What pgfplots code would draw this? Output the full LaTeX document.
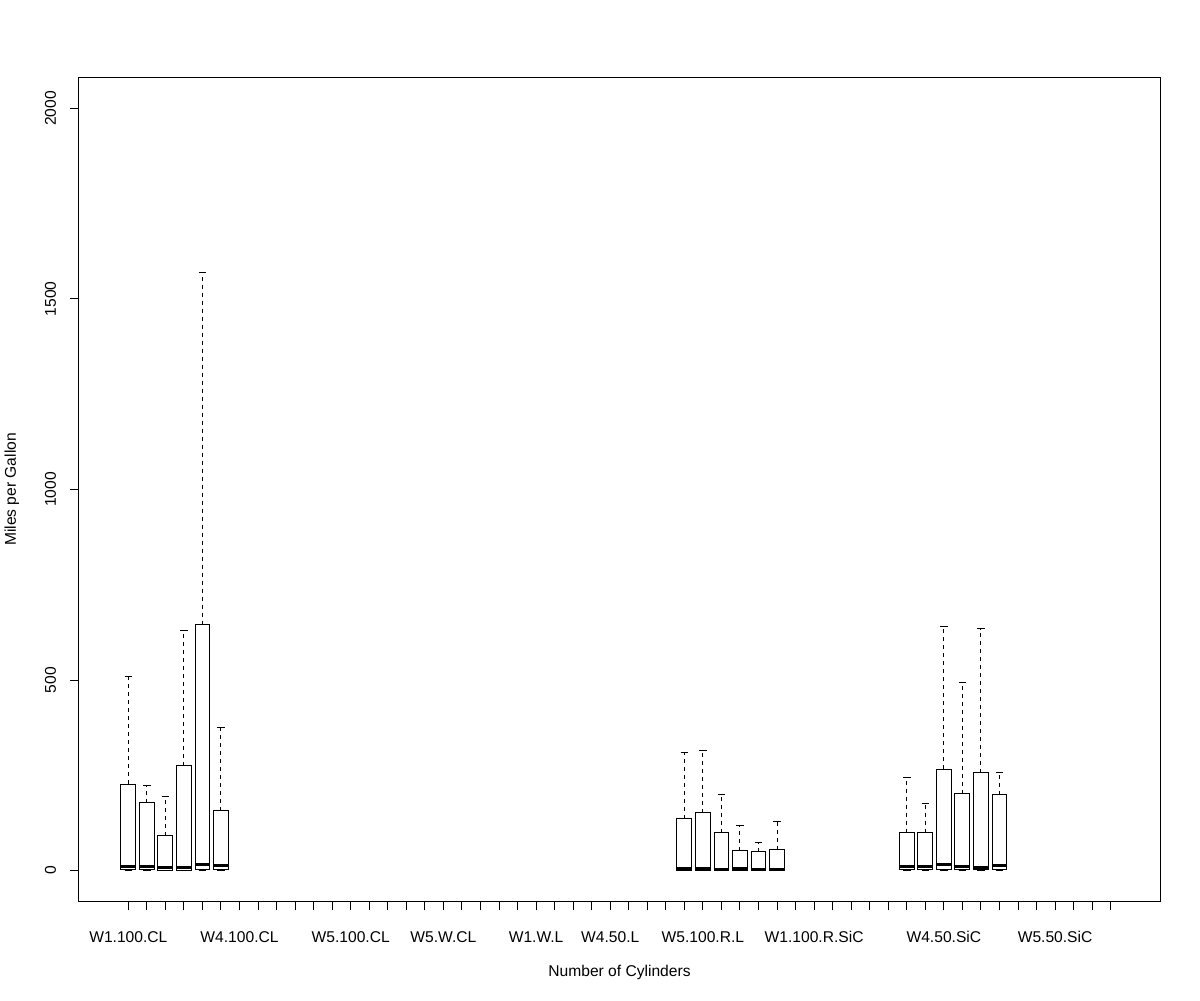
\documentclass[border=0pt]{standalone}
\usepackage{fontspec}
\setmainfont{Liberation Sans}
\usepackage{pgfplots}
\pgfplotsset{compat=1.18}
% draw position, lower whisker, lower quartile, median, upper quartile, upper whisker
\newcommand{\rbox}[6]{%
  \pgfmathsetmacro{\xl}{#1-0.4}%
  \pgfmathsetmacro{\xr}{#1+0.4}%
  \pgfmathsetmacro{\cl}{#1-0.2}%
  \pgfmathsetmacro{\cr}{#1+0.2}%
  \edef\doplots{%
    \noexpand\addplot[black, line width=0.75pt, dash pattern=on 3pt off 3pt, forget plot] coordinates {(#1,#5) (#1,#6)};
    \noexpand\addplot[black, line width=0.75pt, forget plot] coordinates {(\cl,#6) (\cr,#6)};
    \noexpand\addplot[black, line width=0.75pt, forget plot] coordinates {(\cl,#2) (\cr,#2)};
    \noexpand\addplot[black, line width=0.75pt, forget plot] coordinates {(\xl,#3) (\xr,#3) (\xr,#5) (\xl,#5) (\xl,#3) (\xr,#3)};
    \noexpand\addplot[black, line width=2.25pt, forget plot] coordinates {(\xl,#4) (\xr,#4)};
  }\doplots}
\begin{document}
\begin{tikzpicture}
\path[use as bounding box] (0,0) rectangle (900pt,750pt);
\begin{axis}[
  at={(59.25pt,74.25pt)}, anchor=south west,
  scale only axis, width=810.75pt, height=617.25pt,
  xmin=-1.66, xmax=56.66, ymin=-80, ymax=2080,
  font=\fontsize{11.7}{14}\selectfont,
  axis line style={line width=0.75pt, black},
  tick align=outside, major tick length=6.75pt,
  major tick style={line width=0.75pt, black},
  xtick pos=bottom, ytick pos=left,
  xtick={1,...,54},
  xticklabels={W1.100.CL,,,,,,W4.100.CL,,,,,,W5.100.CL,,,,,W5.W.CL,,,,,W1.W.L,,,,W4.50.L,,,,,W5.100.R.L,,,,,,W1.100.R.SiC,,,,,,,W4.50.SiC,,,,,,W5.50.SiC,,,},
  xticklabel style={anchor=base, yshift=-24.5pt},
  ytick={0,500,1000,1500,2000},
  yticklabel style={rotate=90, anchor=base, yshift=10.5pt},
  /pgf/number format/assume math mode=true,
  /pgf/number format/1000 sep={},
  xlabel={Number of Cylinders},
  ylabel={Miles per Gallon},
  xlabel style={at={(axis description cs:0.5,0)}, anchor=base, yshift=-56.25pt},
  ylabel style={at={(axis description cs:0,0.5)}, anchor=base, yshift=47.25pt},
]
\rbox{1}{0}{2}{10}{227}{508}
\rbox{2}{0}{2}{10}{178}{222}
\rbox{3}{0}{1}{7}{91}{193}
\rbox{4}{0}{1}{7}{275}{629}
\rbox{5}{0}{2}{15}{645}{1570}
\rbox{6}{0}{2}{12}{157}{375}
\rbox{31}{0}{1}{6}{136}{309}
\rbox{32}{0}{1}{5}{151}{314}
\rbox{33}{0}{1}{3}{99}{199}
\rbox{34}{0}{1}{5}{52}{117}
\rbox{35}{0}{1}{3}{49}{73}
\rbox{36}{0}{1}{2}{54}{128}
\rbox{43}{0}{2}{10}{99}{243}
\rbox{44}{0}{2}{10}{99}{175}
\rbox{45}{0}{2}{16}{266}{640}
\rbox{46}{0}{2}{10}{201}{493}
\rbox{47}{0}{2}{7}{256}{634}
\rbox{48}{0}{2}{14}{199}{258}
\end{axis}
\end{tikzpicture}
\end{document}
